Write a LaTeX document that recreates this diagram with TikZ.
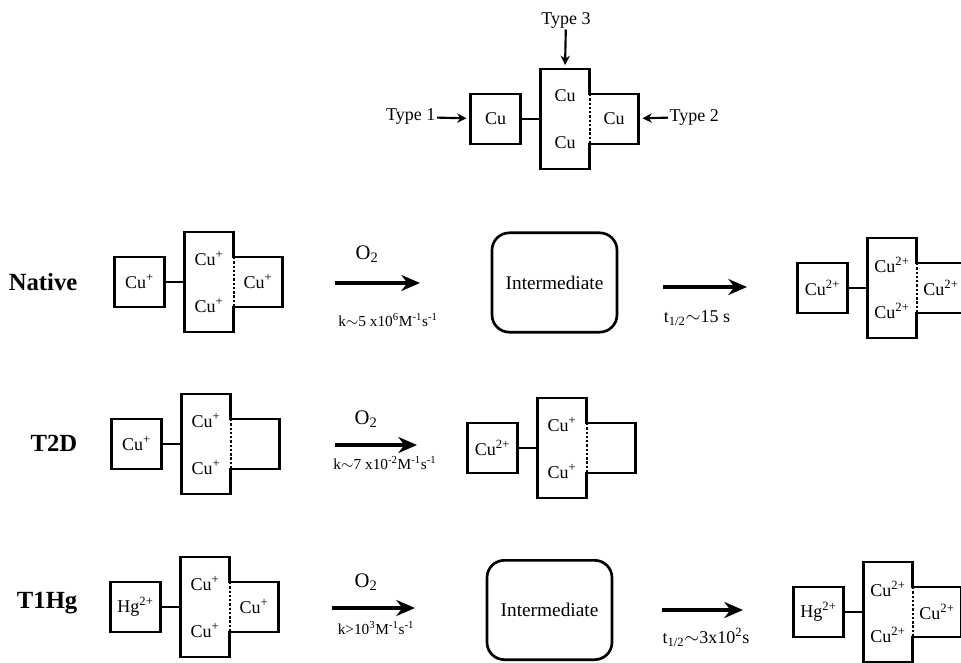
\documentclass[tikz,border=0pt]{standalone}
\usepackage{fontspec}
\setmainfont{Liberation Serif}
\usetikzlibrary{arrows.meta, positioning}

% one copper cluster: core box, side box on the left, half box on the right
\newcommand{\drawcluster}[6]{%
  \node[corebox] (#1c) at (#2) {};
  \node[leftbox, left=15pt of #1c] (#1l) {#3};
  \node[rightbox, right=0pt of #1c] (#1r) {#6};
  \node[cutext] (#1u) at ([yshift=17.5pt]#1c.center) {#4};
  \node[cutext] (#1d) at ([yshift=-17.5pt]#1c.center) {#5};
  \draw[wall] (#1r.north west) -- (#1c.north east) -- (#1c.north west)
    -- (#1c.south west) -- (#1c.south east) -- (#1r.south west);
  \draw[wall] (#1r.north west) -- (#1r.north east) -- (#1r.south east) -- (#1r.south west);
  \draw[line width=1.5pt, line cap=butt, dash pattern=on 1.8pt off 1.4pt] (#1r.north west) -- (#1r.south west);
  \draw[wall] (#1l) -- (#1c);
}

\begin{document}
\begin{tikzpicture}[x=0.75pt, y=-0.75pt,
    wall/.style={line width=2pt, line cap=rect},
    corebox/.style={minimum width=36.75pt, minimum height=75pt, inner sep=0pt, outer sep=0pt},
    leftbox/.style={draw, line width=2pt, minimum width=37.5pt, minimum height=37.5pt,
      inner sep=0pt, outer sep=0pt, font=\fontsize{13.5}{15}\selectfont},
    rightbox/.style={minimum width=36.75pt, minimum height=37.5pt, inner sep=0pt,
      outer sep=0pt, font=\fontsize{13.5}{15}\selectfont},
    cutext/.style={font=\fontsize{13.5}{15}\selectfont, inner sep=1pt},
    rowname/.style={font=\fontsize{18.5}{21}\selectfont\bfseries, anchor=east},
    interbox/.style={draw, line width=2pt, rounded corners=13pt, minimum width=93.75pt,
      minimum height=74.5pt, font=\fontsize{14.5}{16}\selectfont},
    oxy/.style={font=\fontsize{15.5}{17}\selectfont},
    rate/.style={font=\fontsize{11.5}{13}\selectfont},
    react/.style={line width=2.6pt, -{Stealth[length=14pt, width=12pt]}},
    point/.style={line width=1.6pt, -{Stealth[length=7pt, width=7pt]}}]

  \clip (0,0) rectangle (961,663);

  % site types
  \drawcluster{t}{565,119}{Cu}{Cu}{Cu}{Cu}
  \node[cutext] (ty3) at (566,20) {Type 3};
  \node[cutext, anchor=east] (ty1) at (437,117) {Type 1};
  \node[cutext, anchor=west] (ty2) at (668,117) {Type 2};
  \draw[point, shorten >=3pt] (ty3) -- (tc.north);
  \draw[point, shorten >=3pt] (ty1) -- (tl);
  \draw[point, shorten >=3pt] (ty2) -- (tr);

  % native
  \node[rowname] (nat) at (82,282) {Native};
  \drawcluster{na}{209,282}{Cu\textsuperscript{+}}{Cu\textsuperscript{+}}{Cu\textsuperscript{+}}{Cu\textsuperscript{+}}
  \coordinate (na1s) at (335,283);
  \coordinate (na1e) at (420,283);
  \draw[react] (na1s) -- (na1e);
  \node[oxy] (nao) at (367,254) {O\textsubscript{2}};
  \node[rate] (nak) at (388,320) {k$\sim$5 x10\textsuperscript{6}M\textsuperscript{-1}s\textsuperscript{-1}};
  \node[interbox] (nai) at (554.5,282.5) {Intermediate};
  \coordinate (na2s) at (663,287);
  \coordinate (na2e) at (747,287);
  \draw[react] (na2s) -- (na2e);
  \node[cutext] (nat2) at (697,318) {t\textsubscript{1/2}$\sim$15 s};
  \drawcluster{nb}{892,288}{Cu\textsuperscript{2+}}{Cu\textsuperscript{2+}}{Cu\textsuperscript{2+}}{Cu\textsuperscript{2+}}

  % type 2 depleted
  \node[rowname] (t2d) at (82,443) {T2D};
  \drawcluster{da}{206,444}{Cu\textsuperscript{+}}{Cu\textsuperscript{+}}{Cu\textsuperscript{+}}{}
  \coordinate (da1s) at (335,445);
  \coordinate (da1e) at (417,445);
  \draw[react] (da1s) -- (da1e);
  \node[oxy] (dao) at (366,419) {O\textsubscript{2}};
  \node[rate] (dak) at (385,463) {k$\sim$7 x10\textsuperscript{-2}M\textsuperscript{-1}s\textsuperscript{-1}};
  \drawcluster{db}{562,448}{Cu\textsuperscript{2+}}{Cu\textsuperscript{+}}{Cu\textsuperscript{+}}{}

  % mercury substituted
  \node[rowname] (thg) at (82,603) {T1Hg};
  \drawcluster{ha}{205,607}{Hg\textsuperscript{2+}}{Cu\textsuperscript{+}}{Cu\textsuperscript{+}}{Cu\textsuperscript{+}}
  \coordinate (ha1s) at (332,608);
  \coordinate (ha1e) at (415,608);
  \draw[react] (ha1s) -- (ha1e);
  \node[oxy] (hao) at (366,582) {O\textsubscript{2}};
  \node[rate] (hak) at (376,628) {k>10\textsuperscript{3}M\textsuperscript{-1}s\textsuperscript{-1}};
  \node[interbox] (hai) at (549.5,610) {Intermediate};
  \coordinate (ha2s) at (662,610);
  \coordinate (ha2e) at (743,610);
  \draw[react] (ha2s) -- (ha2e);
  \node[cutext] (hat2) at (706,637) {t\textsubscript{1/2}$\sim$3x10\textsuperscript{2}s};
  \drawcluster{hb}{888,612}{Hg\textsuperscript{2+}}{Cu\textsuperscript{2+}}{Cu\textsuperscript{2+}}{Cu\textsuperscript{2+}}
\end{tikzpicture}
\end{document}
